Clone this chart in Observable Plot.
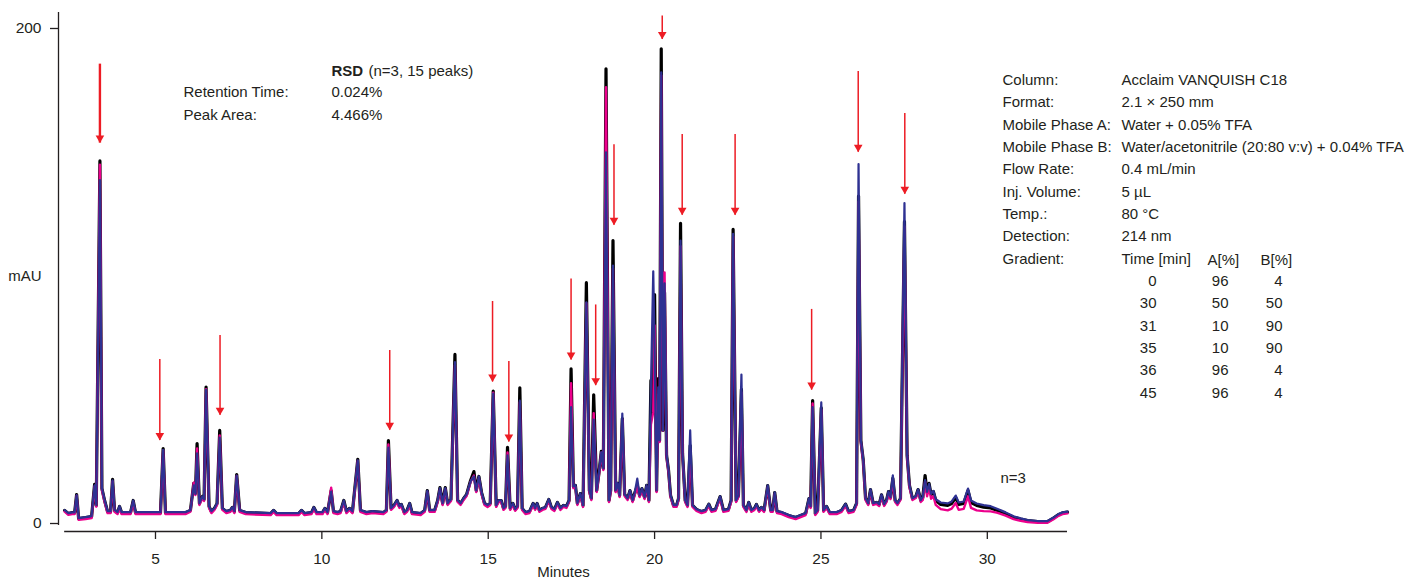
<!DOCTYPE html>
<html><head><meta charset="utf-8">
<script src="https://cdn.jsdelivr.net/npm/d3@7"></script>
<script src="https://cdn.jsdelivr.net/npm/@observablehq/plot@0.6"></script>
<style>
html,body{margin:0;padding:0;background:#fff;}
#chart{width:1408px;height:579px;overflow:hidden;}
</style></head><body><div id="chart"></div>
<script>
// Retention time (minutes)
const minutes = [
2.27,2.38,2.50,2.57,2.63,2.69,2.90,3.08,3.17,3.22,
3.33,3.39,3.47,3.56,3.65,3.71,3.77,3.86,3.92,3.98,
4.25,4.33,4.40,4.85,5.15,5.23,5.30,5.90,6.05,6.15,
6.20,6.25,6.32,6.41,6.46,6.52,6.61,6.68,6.77,6.85,
6.93,7.01,7.13,7.25,7.31,7.37,7.44,7.53,7.71,8.46,
8.55,8.64,9.30,9.39,9.48,9.69,9.76,9.84,10.02,10.09,
10.17,10.28,10.35,10.47,10.56,10.66,10.74,10.83,10.92,11.08,
11.16,11.34,11.52,11.85,11.94,12.00,12.08,12.17,12.26,12.33,
12.39,12.48,12.56,12.64,12.71,12.97,13.09,13.17,13.24,13.39,
13.48,13.55,13.63,13.71,13.78,13.88,14.00,14.08,14.17,14.26,
14.35,14.47,14.57,14.64,14.72,14.80,14.89,14.98,15.06,15.15,
15.24,15.31,15.39,15.46,15.52,15.58,15.66,15.74,15.81,15.88,
15.95,16.02,16.12,16.24,16.35,16.41,16.47,16.54,16.63,16.72,
16.82,16.90,16.99,17.08,17.17,17.26,17.35,17.43,17.49,17.56,
17.62,17.68,17.77,17.85,17.95,18.04,18.10,18.17,18.26,18.33,
18.40,18.46,18.54,18.63,18.68,18.75,18.83,18.89,18.95,19.03,
19.10,19.19,19.26,19.34,19.40,19.48,19.55,19.62,19.70,19.76,
19.83,19.89,19.96,20.00,20.06,20.11,20.15,20.20,20.25,20.30,
20.36,20.42,20.48,20.57,20.66,20.72,20.78,20.84,20.92,20.99,
21.07,21.14,21.26,21.41,21.53,21.63,21.71,21.83,21.97,22.07,
22.22,22.30,22.36,22.45,22.52,22.61,22.67,22.76,22.83,22.91,
23.00,23.06,23.14,23.21,23.29,23.40,23.49,23.55,23.61,23.68,
23.82,24.03,24.24,24.39,24.54,24.64,24.69,24.75,24.83,24.90,
25.01,25.08,25.17,25.26,25.47,25.62,25.74,25.83,25.98,26.07,
26.13,26.20,26.27,26.34,26.42,26.49,26.57,26.67,26.75,26.82,
26.90,26.97,27.03,27.09,27.16,27.23,27.30,27.39,27.51,27.59,
27.66,27.75,27.85,27.92,28.00,28.06,28.13,28.19,28.25,28.31,
28.38,28.45,28.60,28.81,28.93,29.05,29.14,29.29,29.42,29.51,
29.68,29.89,30.10,30.31,30.55,30.79,31.00,31.21,31.51,31.81,
31.99,32.14,32.26,32.41
];
// Injection 1 (black), mAU
const blackTrace = [
5.3,4.0,4.4,4.4,11.7,2.0,2.4,2.8,15.8,7.3,
146.5,14.1,9.3,4.8,4.8,17.8,5.3,4.4,6.9,4.4,
4.4,9.3,4.4,4.4,4.4,30.3,4.4,4.4,5.3,16.2,
12.1,32.3,8.1,10.9,9.7,55.1,6.9,4.8,6.1,8.1,
37.6,6.1,4.8,5.3,6.5,4.8,19.8,5.3,4.4,4.0,
5.3,4.0,4.0,5.3,4.0,4.4,6.5,4.4,4.4,6.1,
4.4,13.3,4.8,4.4,4.8,9.3,4.8,6.1,4.8,25.9,
5.3,4.4,4.8,4.4,5.3,33.5,6.1,7.3,9.3,6.9,
7.7,4.4,5.3,8.1,4.4,4.0,5.3,13.3,5.3,5.3,
9.3,14.5,8.1,14.5,8.1,9.7,68.3,9.3,8.1,10.1,
11.7,17.4,21.0,13.3,19.0,12.5,8.1,7.3,8.1,53.5,
7.3,9.3,9.3,6.1,6.9,30.8,6.1,8.1,5.7,6.9,
54.8,6.1,4.4,4.8,8.1,6.1,8.1,5.3,6.1,6.5,
9.7,6.5,5.7,8.5,6.1,7.3,6.9,9.3,62.5,14.9,
15.4,8.1,12.1,7.3,97.3,13.3,10.1,52.0,13.3,20.6,
29.2,22.2,183.7,9.3,13.3,114.3,13.3,16.2,11.3,42.4,
11.7,10.1,13.3,9.3,12.1,15.4,11.3,14.1,10.5,15.4,
9.3,57.8,45.0,92.5,13.3,58.5,33.5,191.8,37.6,93.3,
27.5,21.4,11.3,7.3,7.3,10.1,121.3,28.3,9.3,7.3,
31.5,7.3,5.7,4.8,5.3,7.8,5.3,5.7,10.9,5.3,
5.7,9.3,118.8,9.3,11.3,54.2,7.3,5.3,8.5,5.3,
6.1,7.7,5.3,6.5,5.3,15.3,5.3,5.3,12.5,4.8,
4.4,3.2,2.4,3.2,4.0,10.1,6.9,49.7,4.0,5.3,
46.7,5.3,6.9,4.4,4.4,5.3,7.8,4.8,5.3,8.1,
132.3,33.5,25.7,10.1,8.1,13.7,8.1,8.5,7.7,11.6,
7.7,9.3,12.9,10.5,18.2,9.3,8.1,10.1,122.0,27.5,
15.4,10.1,10.9,13.7,9.3,10.5,19.4,12.5,16.2,11.7,
12.9,9.3,7.7,7.3,8.1,10.5,7.7,8.1,13.3,8.5,
7.3,6.6,6.3,5.3,4.0,2.5,1.8,1.2,0.8,0.8,
2.2,3.6,4.3,4.6
];
// Injection 2 (magenta), mAU
const magentaTrace = [
4.8,3.5,3.8,3.8,11.2,1.5,1.8,2.2,15.0,6.8,
145.0,13.5,8.8,4.2,4.2,17.0,4.7,3.8,6.3,3.8,
3.8,8.7,3.8,3.8,3.8,29.5,3.8,3.8,4.8,16.5,
11.5,30.3,7.5,10.3,9.1,54.3,6.3,4.2,5.5,7.5,
35.6,5.5,4.2,4.7,5.9,4.2,19.2,4.7,3.8,3.4,
4.7,3.4,3.4,4.7,3.4,3.8,5.9,3.8,3.8,5.5,
3.8,14.5,4.2,3.8,4.2,8.7,4.2,5.5,4.2,25.3,
4.7,3.8,4.2,3.8,4.7,31.9,5.5,6.7,8.7,6.3,
7.1,3.8,4.7,7.5,3.8,3.4,4.7,12.7,4.7,4.7,
8.7,13.9,7.5,13.9,7.5,9.1,64.0,8.7,7.5,9.5,
11.1,16.8,19.4,12.7,18.2,11.9,7.5,6.7,7.5,52.8,
6.7,8.7,8.7,5.5,6.3,28.7,5.5,7.5,5.1,6.3,
49.0,5.5,3.8,4.2,7.5,5.5,7.5,4.7,5.5,5.9,
9.1,5.9,5.1,7.9,5.5,6.7,6.3,8.7,56.7,14.3,
14.8,7.5,11.5,6.7,89.0,12.7,9.5,44.6,12.7,20.0,
28.6,21.6,176.3,8.7,12.7,103.0,12.7,15.6,10.7,42.0,
11.1,9.5,12.7,8.7,11.5,14.8,10.7,13.5,9.9,14.8,
8.7,40.0,45.0,80.0,12.7,52.0,32.9,181.0,37.6,101.4,
26.9,20.8,10.7,6.7,6.7,9.5,112.0,27.7,8.7,6.7,
30.0,6.7,5.1,4.2,4.7,7.2,4.7,5.1,10.3,4.7,
5.1,8.7,116.0,8.7,10.7,53.0,6.7,4.7,7.9,4.7,
5.5,7.1,4.7,5.9,4.7,14.7,4.7,4.7,11.9,4.2,
3.8,2.6,1.8,2.6,3.4,9.5,6.3,48.5,3.4,4.7,
46.0,4.7,6.3,3.8,3.8,4.7,7.2,4.2,4.7,7.5,
130.0,32.9,25.1,9.5,7.5,13.1,7.5,7.9,7.1,11.0,
7.1,8.7,12.3,9.9,17.6,8.7,7.5,9.5,120.0,26.9,
14.8,9.5,10.3,13.1,8.7,9.5,17.0,11.0,14.5,10.0,
11.0,7.5,5.8,5.3,6.0,8.3,5.5,5.9,11.0,6.3,
5.3,5.0,4.9,4.3,3.2,1.8,1.1,0.6,0.3,0.3,
1.7,3.1,3.8,4.1
];
// Injection 3 (navy), mAU
const navyTrace = [
5.4,4.2,4.5,4.5,11.5,2.2,2.6,3.0,15.4,7.5,
138.7,14.3,9.5,5.0,5.0,17.4,5.5,4.6,7.0,4.6,
4.6,9.3,4.6,4.6,4.6,29.8,4.6,4.6,5.4,15.4,
12.0,28.3,8.2,11.0,9.8,54.0,7.0,5.0,6.2,8.2,
34.7,6.2,5.0,5.4,6.6,5.0,19.4,5.4,4.6,4.2,
5.4,4.2,4.2,5.4,4.2,4.6,6.6,4.6,4.6,6.2,
4.6,12.9,5.0,4.6,5.0,9.3,5.0,6.2,5.0,25.5,
5.4,4.6,5.0,4.6,5.4,30.7,6.2,7.4,9.4,7.0,
7.8,4.6,5.4,8.2,4.6,4.2,5.4,13.2,5.4,5.4,
9.4,14.3,8.2,14.3,8.2,9.8,65.2,9.4,8.2,10.2,
11.8,17.0,19.0,13.4,19.0,12.6,8.2,7.4,8.2,52.5,
7.4,9.4,9.4,6.2,7.0,27.5,6.2,8.2,5.8,7.0,
49.7,6.2,4.6,5.0,8.2,6.2,8.2,5.4,6.2,6.6,
9.8,6.6,5.8,8.6,6.2,7.4,7.0,9.4,47.0,15.0,
15.5,8.2,12.2,7.4,89.4,13.4,10.2,42.0,13.4,20.7,
28.8,22.3,150.0,9.4,13.4,104.2,13.4,16.3,11.4,44.4,
11.8,10.2,13.4,9.4,12.2,18.1,11.4,14.2,10.6,15.5,
9.4,55.0,101.9,70.0,13.4,55.0,33.6,182.3,37.6,97.0,
27.6,21.5,11.4,7.4,7.4,10.2,114.3,28.4,9.4,7.4,
37.6,7.4,5.8,5.0,5.4,7.9,5.4,5.8,11.0,5.4,
5.8,9.4,117.0,9.4,11.4,60.2,7.4,5.4,8.6,5.4,
6.2,7.8,5.4,6.6,5.4,15.4,5.4,5.4,12.6,5.0,
4.6,3.4,2.6,3.4,4.2,10.2,7.0,47.0,4.2,5.4,
48.9,5.4,7.0,4.6,4.6,5.4,7.9,5.0,5.4,8.2,
145.2,33.6,25.8,10.2,8.2,13.8,8.2,8.6,7.8,11.7,
7.8,9.4,13.0,10.6,19.5,9.4,8.2,10.2,129.5,27.6,
15.5,10.2,11.0,13.8,9.4,10.8,17.5,12.8,16.0,12.0,
13.2,9.8,8.5,8.1,8.9,11.3,8.5,8.9,14.1,9.3,
8.1,7.4,7.0,5.9,4.5,2.9,2.1,1.4,1.0,1.0,
2.4,3.8,4.5,4.8
];
// 15 marked peaks: arrow position (min), arrow tail and tip (mAU)
const arrowMinutes = [3.33,5.13,6.94,12.04,15.13,15.62,17.49,18.23,18.78,20.23,20.83,22.42,24.72,26.12,27.52];
const arrowTop =     [185.6,66.3,76.0,69.9,89.7,65.5,98.8,88.3,153.0,205.0,157.2,157.2,86.5,182.6,165.7];
const arrowTip =     [153.7,33.5,43.7,37.7,57.2,32.9,66.1,55.7,120.5,195.6,124.5,124.5,53.9,150.0,133.0];

const xTicks = [5,10,15,20,25,30];
const yTicks = [0,200];
const rsdLabels = ["Retention Time:","Peak Area:"];
const rsdValues = ["0.024%","4.466%"];
const paramLabels = ["Column:","Format:","Mobile Phase A:","Mobile Phase B:","Flow Rate:","Inj. Volume:","Temp.:","Detection:","Gradient:"];
const paramValues = ["Acclaim VANQUISH C18","2.1 × 250 mm","Water + 0.05% TFA","Water/acetonitrile (20:80 v:v) + 0.04% TFA","0.4 mL/min","5 µL","80 °C","214 nm","Time [min]"];
const gradTime = ["0","30","31","35","36","45"];
const gradA = ["96","50","10","10","96","96"];
const gradB = ["4","50","90","90","4","4"];

const ink = "#231f20";
const red = "#ed1c24";
const font = "'Liberation Sans', Arial, Helvetica, sans-serif";
const xDomain = [2.085, 32.44];
const yDomain = [-3.23, 206.46];
const idx = d3.range(arrowMinutes.length);
const fs = 15;

const txt = (lines, o) => Plot.text([lines.join("\n")], Object.assign({frameAnchor: "top-left", textAnchor: "start", lineAnchor: "top", fontSize: fs, fill: ink}, o));

const chart = Plot.plot({
  width: 1408, height: 579,
  marginLeft: 58, marginRight: 340, marginTop: 12, marginBottom: 48,
  x: {domain: xDomain},
  y: {domain: yDomain},
  style: {fontFamily: font, color: ink, background: "#fff", overflow: "visible"},
  marks: [
    Plot.ruleY([yDomain[0]], {x1: minutes[0], x2: minutes[minutes.length - 1], stroke: ink, strokeWidth: 1.3}),
    Plot.ruleX([xDomain[0]], {y1: -0.81, y2: yDomain[1], stroke: ink, strokeWidth: 1.3}),
    Plot.axisX({ticks: xTicks, tickSize: 8, tickPadding: 13, fontSize: 15.5, label: null, strokeWidth: 1.3}),
    Plot.axisY({ticks: yTicks, tickSize: 8, tickPadding: 9, fontSize: 15.5, label: null, strokeWidth: 1.3}),
    Plot.lineY(blackTrace, {x: minutes, stroke: "#000000", strokeWidth: 3.2, strokeLinejoin: "round"}),
    Plot.lineY(magentaTrace, {x: minutes, stroke: "#ec008c", strokeWidth: 2.4, strokeLinejoin: "round"}),
    Plot.lineY(navyTrace, {x: minutes, stroke: "#2e3192", strokeWidth: 2.2, strokeLinejoin: "round"}),
    Plot.ruleX(idx, {x: i => arrowMinutes[i], y1: i => arrowTop[i], y2: i => arrowTip[i], stroke: red, strokeWidth: i => (i === 0 ? 2.4 : 1.5)}),
    Plot.dot(idx, {x: i => arrowMinutes[i], y: i => arrowTip[i], symbol: "triangle", rotate: 180, r: 3.2, fill: red, stroke: null, dy: -5}),
    // RSD block
    txt(["RSD"], {dx: 273, dy: 53.2, fontWeight: "bold"}),
    txt(["(n=3, 15 peaks)"], {dx: 310, dy: 53.2}),
    txt(rsdLabels, {dx: 125, dy: 68.7, lineHeight: 1.53}),
    txt(rsdValues, {dx: 273, dy: 68.7, lineHeight: 1.53}),
    // Conditions block
    txt(paramLabels, {dx: 944, dy: 56.8, lineHeight: 1.487}),
    txt(paramValues, {dx: 1063, dy: 56.8, lineHeight: 1.487}),
    txt(["A[%]"], {dx: 1149, dy: 241.8}),
    txt(["B[%]"], {dx: 1202, dy: 241.8}),
    txt(gradTime, {dx: 1098, dy: 257.5, lineHeight: 1.493, textAnchor: "end"}),
    txt(gradA, {dx: 1170, dy: 257.5, lineHeight: 1.493, textAnchor: "end"}),
    txt(gradB, {dx: 1224, dy: 257.5, lineHeight: 1.493, textAnchor: "end"}),
    txt(["n=3"], {dx: 942, dy: 459.8}),
    // axis titles
    Plot.text(["mAU"], {frameAnchor: "left", dx: -17, dy: 4.5, textAnchor: "end", fontSize: fs, fill: ink}),
    Plot.text(["Minutes"], {frameAnchor: "bottom", dy: 45, fontSize: fs, fill: ink})
  ]
});
document.getElementById("chart").appendChild(chart);
</script></body></html>
